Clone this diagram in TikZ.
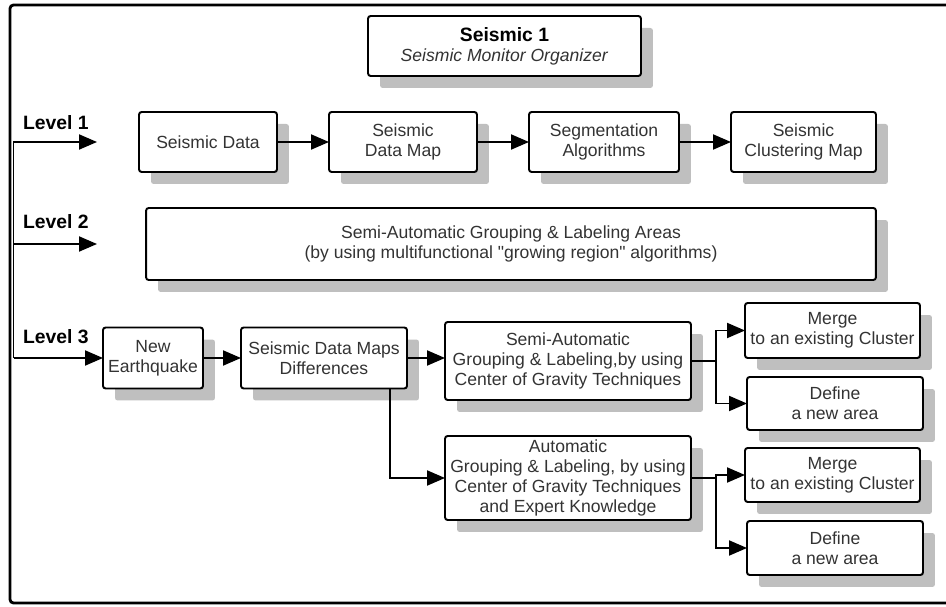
\documentclass[tikz,border=0pt]{standalone}
\usepackage{fontspec}
\setmainfont{Liberation Sans}
\usetikzlibrary{arrows.meta,shadows}

\begin{document}
\begin{tikzpicture}[x=0.02cm, y=-0.02cm,
  every node/.style={outer sep=0pt},
  box/.style={draw, fill=white, rounded corners=1.5pt, line width=1.1pt, align=center,
    inner sep=0pt, text=black!80, font=\fontsize{10}{11.5}\selectfont,
    drop shadow={shadow xshift=0.24cm, shadow yshift=-0.24cm, fill=black!25, opacity=1}},
  lvl/.style={anchor=west, inner sep=0pt, font=\fontsize{11}{13}\selectfont\bfseries},
  arr/.style={line width=1.1pt, -{Triangle[length=0.36cm, width=0.3cm]}}]
\useasboundingbox (0,0) rectangle (946,607);
\draw[line width=1.6pt, rounded corners=2pt] (960,5) -- (10,5) -- (10,603) -- (960,603);

\node[box, minimum width=5.46cm, minimum height=1.2cm] (title) at (504.5,46)
  {{\fontsize{11}{13}\selectfont\bfseries\color{black} Seismic 1}\\ \textit{Seismic Monitor Organizer}};

\node[lvl] (lev1) at (23,123) {Level 1};
\node[lvl] (lev2) at (23,222) {Level 2};
\node[lvl] (lev3) at (23,337) {Level 3};

% level 1
\node[box, minimum width=2.76cm, minimum height=1.2cm] (sdata) at (208,142) {Seismic Data};
\node[box, minimum width=2.96cm, minimum height=1.2cm] (sdmap) at (403,142) {Seismic\\Data Map};
\node[box, minimum width=3.0cm, minimum height=1.2cm] (segalg) at (604,142) {Segmentation\\Algorithms};
\node[box, minimum width=2.9cm, minimum height=1.2cm] (sclmap) at (803.5,142) {Seismic\\Clustering Map};

% level 2
\node[box, minimum width=14.6cm, minimum height=1.44cm] (group) at (511,244)
  {Semi-Automatic Grouping \& Labeling Areas\\(by using multifunctional \textquotedbl growing region\textquotedbl\ algorithms)};

% level 3
\node[box, minimum width=2.0cm, minimum height=1.22cm] (newq) at (153,358) {New\\Earthquake};
\node[box, minimum width=3.32cm, minimum height=1.22cm] (diff) at (324,358) {Seismic Data Maps\\Differences};
\node[box, minimum width=4.92cm, minimum height=1.56cm] (semi) at (568,361)
  {Semi-Automatic\\Grouping \& Labeling,by using\\Center of Gravity Techniques};
\node[box, minimum width=4.92cm, minimum height=1.68cm] (auto) at (568,478)
  {Automatic\\Grouping \& Labeling, by using\\Center of Gravity Techniques\\and Expert Knowledge};
\node[box, minimum width=3.5cm, minimum height=1.1cm] (merge1) at (832.5,330.5) {Merge\\to an existing Cluster};
\node[box, minimum width=3.52cm, minimum height=1.06cm] (define1) at (835,403.5) {Define\\a new area};
\node[box, minimum width=3.5cm, minimum height=1.08cm] (merge2) at (832.5,475) {Merge\\to an existing Cluster};
\node[box, minimum width=3.52cm, minimum height=1.08cm] (define2) at (835,548) {Define\\a new area};

% connectors
\coordinate (trunk) at (13.5,142);
\coordinate (end1) at (97,142);
\coordinate (end2) at (97,244);
\coordinate (foot) at (13.5,358);
\draw[arr] (foot) -- (trunk) -- (end1);
\draw[arr] (trunk |- end2) -- (end2);
\draw[arr] (foot) -- (newq.west);

\draw[arr] (sdata) -- (sdmap);
\draw[arr] (sdmap) -- (segalg);
\draw[arr] (segalg) -- (sclmap);

\draw[arr] (newq) -- (diff);
\draw[arr] (diff.east) -- (diff.east -| semi.west);
\draw[arr] ([xshift=-0.34cm]diff.south east) |- (auto.west);
\draw[arr] (semi.east) -- ++(25,0) |- (merge1.west);
\draw[arr] (semi.east) -- ++(25,0) |- (define1.west);
\draw[arr] (auto.east) -- ++(25,0) |- (merge2.west);
\draw[arr] (auto.east) -- ++(25,0) |- (define2.west);
\end{tikzpicture}
\end{document}
